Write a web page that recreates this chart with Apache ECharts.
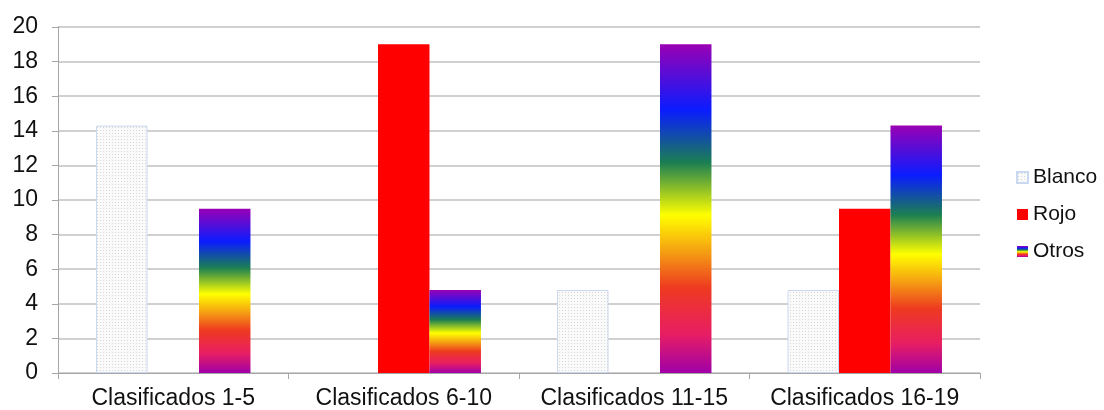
<!DOCTYPE html>
<html>
<head>
<meta charset="utf-8">
<script src="https://cdn.jsdelivr.net/npm/echarts@6/dist/echarts.min.js"></script>
<style>
  html, body { margin: 0; padding: 0; background: #fff; }
  #chart { width: 1104px; height: 410px; }
</style>
</head>
<body>
<div id="chart"></div>
<script>
// datos
const categorias = ['Clasificados 1-5', 'Clasificados 6-10', 'Clasificados 11-15', 'Clasificados 16-19'];
const blanco = [14.3, 0, 4.8, 4.8];
const rojo = [0, 19, 0, 9.5];
const otros = [9.5, 4.8, 19, 14.3];
const yTicks = [0, 2, 4, 6, 8, 10, 12, 14, 16, 18, 20];

// una barra de valor 0 no se dibuja (si no, queda el borde)
const sinCeros = arr => arr.map(v => (v === 0 ? '-' : v));

// trama punteada para la serie Blanco
function dotPattern() {
    const c = document.createElement('canvas');
    c.width = 3;
    c.height = 3;
    const ctx = c.getContext('2d');
    ctx.fillStyle = '#fafafa';
    ctx.fillRect(0, 0, 3, 3);
    ctx.fillStyle = '#d8d8d8';
    ctx.fillRect(1, 1, 1, 1);
    return c;
}

const arcoiris = new echarts.graphic.LinearGradient(0, 0, 0, 1, [
    {offset: 0, color: '#9a00b4'},
    {offset: 0.2, color: '#0a1cff'},
    {offset: 0.36, color: '#1b7f52'},
    {offset: 0.52, color: '#ffff00'},
    {offset: 0.63, color: '#f5a012'},
    {offset: 0.74, color: '#ee3a20'},
    {offset: 0.88, color: '#e81e62'},
    {offset: 1, color: '#a000a8'}
]);

const chart = echarts.init(document.getElementById('chart'));

const fuente = 'Liberation Sans, Arial, sans-serif';

chart.setOption({
    animation: false,
    grid: {left: 58, right: 124, top: 27, bottom: 37},
    legend: {
        orient: 'vertical',
        left: 1011,
        top: 162,
        icon: 'rect',
        itemWidth: 11,
        itemHeight: 11,
        itemGap: 16,
        textStyle: {fontFamily: fuente, fontSize: 21, color: '#111'},
        data: ['Blanco', 'Rojo', 'Otros']
    },
    xAxis: {
        type: 'category',
        data: categorias,
        axisLine: {lineStyle: {color: '#a6a6a6'}},
        axisTick: {show: true, length: 6, lineStyle: {color: '#a6a6a6'}},
        axisLabel: {interval: 0, fontFamily: fuente, fontSize: 23, color: '#111', margin: 14}
    },
    yAxis: {
        type: 'value',
        min: yTicks[0],
        max: yTicks[yTicks.length - 1],
        interval: 2,
        axisLine: {show: true, lineStyle: {color: '#a6a6a6'}},
        axisTick: {show: true, length: 6, lineStyle: {color: '#a6a6a6'}},
        splitLine: {lineStyle: {color: '#c0c0c0', width: 1.5}},
        axisLabel: {fontFamily: fuente, fontSize: 23, color: '#111', margin: 20}
    },
    series: [
        {
            name: 'Blanco',
            type: 'bar',
            data: sinCeros(blanco),
            barGap: '0%',
            barCategoryGap: '33%',
            itemStyle: {
                color: {image: dotPattern(), repeat: 'repeat'},
                borderColor: '#cad8f0',
                borderWidth: 1
            }
        },
        {
            name: 'Rojo',
            type: 'bar',
            data: sinCeros(rojo),
            itemStyle: {color: '#ff0000'}
        },
        {
            name: 'Otros',
            type: 'bar',
            data: sinCeros(otros),
            itemStyle: {color: arcoiris}
        }
    ]
});
</script>
</body>
</html>
